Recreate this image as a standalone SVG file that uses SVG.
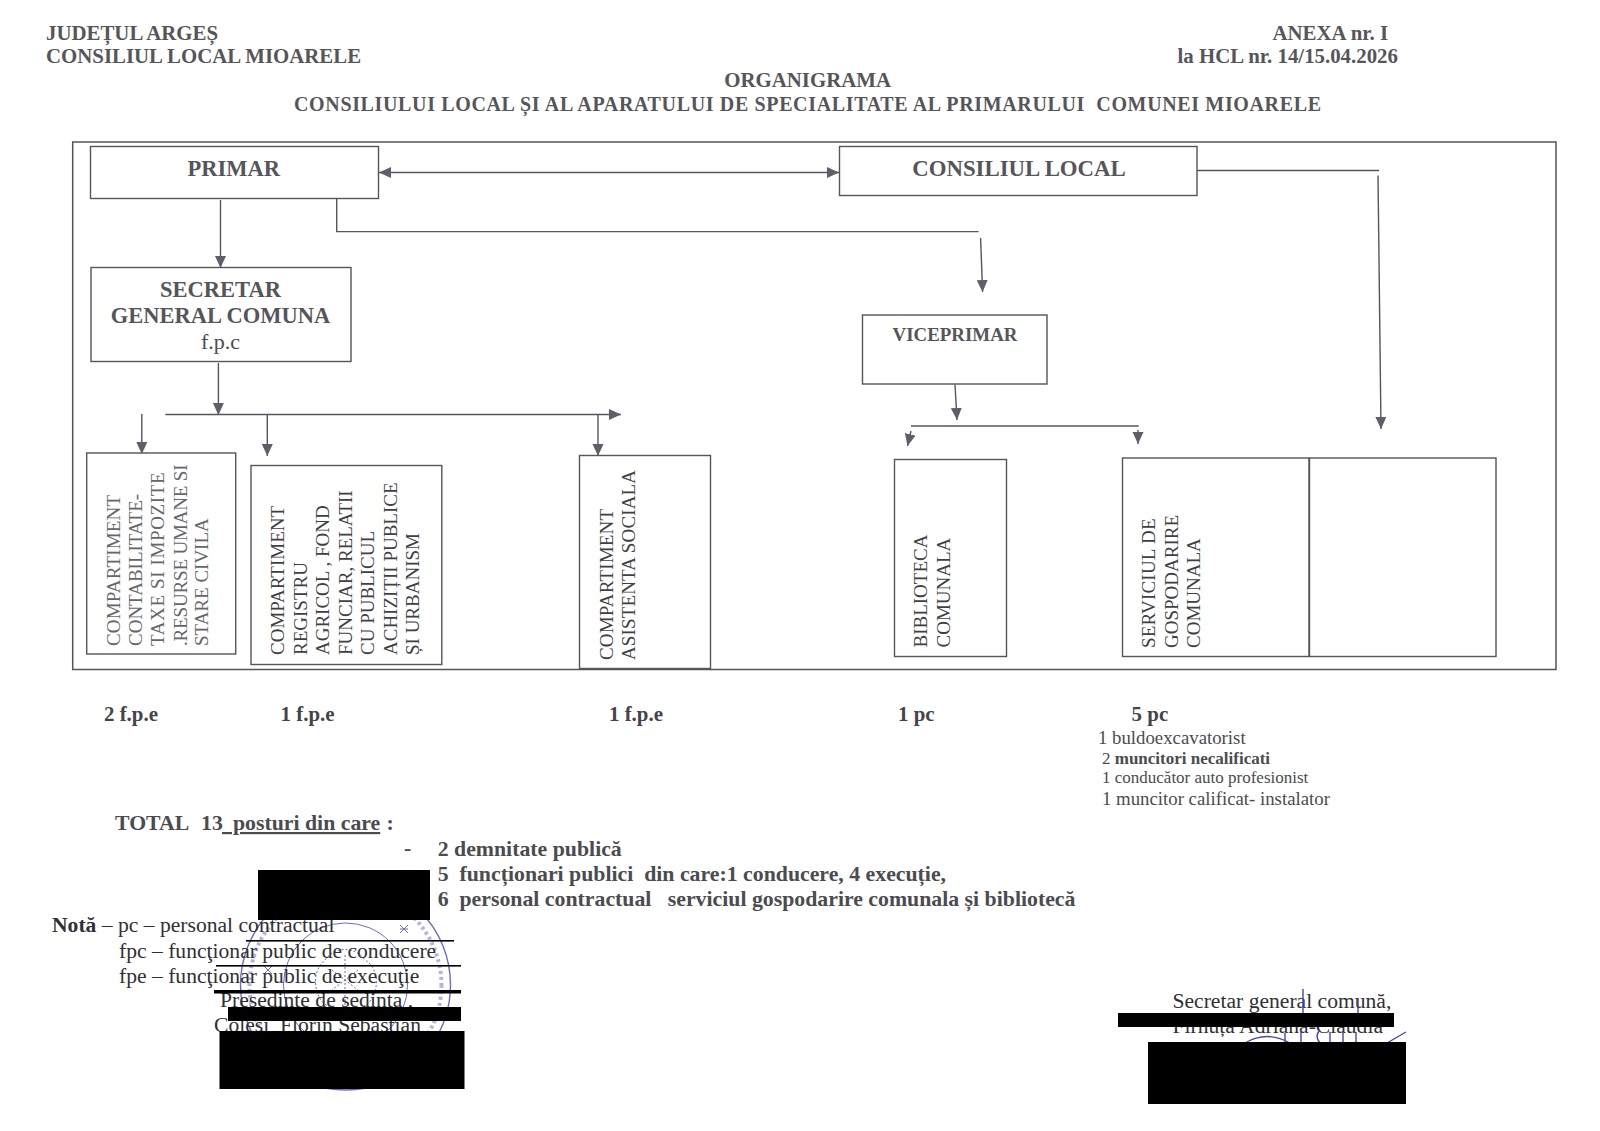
<svg xmlns="http://www.w3.org/2000/svg" width="1600" height="1131" viewBox="0 0 1600 1131">
<style>
text{font-family:"Liberation Serif","Times New Roman",serif;fill:#4b4b50}
.b{font-weight:bold}
.h{font-size:20.85px;font-weight:bold;fill:#55555a}
.t{font-size:22.5px;font-weight:bold;fill:#55555a;text-anchor:middle}
.v{font-size:19px;fill:#3f3f44}
.l{fill:#66666a}
.n{font-size:21.6px;fill:#303034}
.q{font-size:20.9px;font-weight:bold;fill:#44444a}
.r{font-size:21.8px;font-weight:bold;fill:#4b4b50;white-space:pre}
.box{fill:#fff;stroke:#55555a;stroke-width:1.4}
.c{fill:none;stroke:#55555e;stroke-width:1.4}
.a{marker-end:url(#ah)}
.k{fill:#000;stroke:none}
.s{fill:none;stroke:#6a6cc0;stroke-width:1}
.sig{fill:none;stroke:#4a45a8;stroke-width:1.4}
</style>
<defs>
<marker id="ah" markerUnits="userSpaceOnUse" markerWidth="14" markerHeight="12" refX="12" refY="5.5" orient="auto-start-reverse"><path d="M0,0L12,5.5L0,11Z" fill="#5f5f6a"/></marker>
</defs>
<rect width="1600" height="1131" fill="#fff"/>
<g id="header">
<text class="h" x="46" y="40">JUDEȚUL ARGEȘ</text>
<text class="h" x="46" y="63">CONSILIUL LOCAL MIOARELE</text>
<text class="h" x="1272.5" y="40">ANEXA nr. I</text>
<text class="h" x="1177.5" y="63">la HCL nr. 14/15.04.2026</text>
<text class="h" x="807.6" y="87" text-anchor="middle">ORGANIGRAMA</text>
<text class="h" x="294" y="111" textLength="1027" style="font-size:20px;white-space:pre">CONSILIULUI LOCAL ȘI AL APARATULUI DE SPECIALITATE AL PRIMARULUI  COMUNEI MIOARELE</text>
</g>
<rect id="frame" x="72.7" y="142" width="1483.3" height="527.5" fill="none" stroke="#55555a" stroke-width="1.5"/>
<g id="connectors">
<path class="c" d="M379,172.5H839" marker-start="url(#ah)" marker-end="url(#ah)"/>
<path class="c" d="M1197,170.5H1379"/>
<path class="c a" d="M1378,175.5L1381,429"/>
<path class="c a" d="M220.5,200V268"/>
<path class="c" d="M336.7,195V231.6H978.5"/>
<path class="c a" d="M980.6,238L982.6,292"/>
<path class="c a" d="M218.4,363V415"/>
<path class="c a" d="M165.3,414.5H621"/>
<path class="c a" d="M141.8,414V454"/>
<path class="c a" d="M267.3,414.5V456"/>
<path class="c a" d="M598,414.5V456"/>
<path class="c a" d="M955,384.5L957,420"/>
<path class="c" d="M911,426H1138.7"/>
<path class="c a" d="M911,431L907.5,446"/>
<path class="c a" d="M1138,430V444"/>
</g>
<g id="primar"><rect class="box" x="90.5" y="146.5" width="288" height="52"/><text class="t" x="233.7" y="175.5">PRIMAR</text></g>
<g id="consiliul-local"><rect class="box" x="839.5" y="146.5" width="357.5" height="49"/><text class="t" x="1019" y="175.5" style="font-size:22.8px">CONSILIUL LOCAL</text></g>
<g id="secretar"><rect class="box" x="91" y="267.5" width="260" height="94"/><text class="t" x="220.5" y="297">SECRETAR</text><text class="t" x="220.5" y="323">GENERAL COMUNA</text><text x="220.5" y="349" text-anchor="middle" font-size="22">f.p.c</text></g>
<g id="viceprimar"><rect class="box" x="862.5" y="315" width="184.5" height="69"/><text class="t" x="955" y="340.5" style="font-size:18.9px">VICEPRIMAR</text></g>
<g id="comp-contabilitate"><rect class="box" x="86.7" y="453" width="149" height="201"/>
<text class="v l" transform="translate(120,646) rotate(-90)" textLength="151">COMPARTIMENT</text>
<text class="v l" transform="translate(142,646) rotate(-90)">CONTABILITATE-</text>
<text class="v l" transform="translate(164,646) rotate(-90)" textLength="173.5">TAXE SI IMPOZITE</text>
<text class="v l" transform="translate(186.5,646) rotate(-90)" textLength="181.6">.RESURSE UMANE SI</text>
<text class="v l" transform="translate(208,646) rotate(-90)">STARE CIVILA</text>
</g>
<g id="comp-registru"><rect class="box" x="251" y="465.5" width="190.8" height="199"/>
<text class="v" transform="translate(284,655) rotate(-90)">COMPARTIMENT</text>
<text class="v" transform="translate(306.5,655) rotate(-90)">REGISTRU</text>
<text class="v" transform="translate(329,655) rotate(-90)">AGRICOL , FOND</text>
<text class="v" transform="translate(351.5,655) rotate(-90)">FUNCIAR, RELATII</text>
<text class="v" transform="translate(374,655) rotate(-90)">CU PUBLICUL</text>
<text class="v" transform="translate(396.5,655) rotate(-90)">ACHIZIȚII PUBLICE</text>
<text class="v" transform="translate(419,655) rotate(-90)">ȘI URBANISM</text></g>
<g id="comp-asistenta"><rect class="box" x="579.5" y="455.5" width="131" height="213"/>
<text class="v" transform="translate(612.5,660) rotate(-90)" textLength="151">COMPARTIMENT</text>
<text class="v" transform="translate(635,660) rotate(-90)" textLength="190">ASISTENTA SOCIALA</text></g>
<g id="biblioteca"><rect class="box" x="894.5" y="459.5" width="112" height="197"/>
<text class="v" transform="translate(926.5,647.5) rotate(-90)">BIBLIOTECA</text>
<text class="v" transform="translate(949.5,647.5) rotate(-90)">COMUNALA</text></g>
<g id="serviciu"><rect class="box" x="1122.5" y="458" width="186.5" height="198.5"/>
<text class="v" transform="translate(1155,648) rotate(-90)" textLength="129.5">SERVICIUL DE</text>
<text class="v" transform="translate(1177.5,648) rotate(-90)">GOSPODARIRE</text>
<text class="v" transform="translate(1200,648) rotate(-90)">COMUNALA</text></g>
<g id="empty-box"><rect class="box" x="1309.5" y="458" width="186.5" height="198.5"/></g>
<g id="counts">
<text class="q" x="104" y="721">2 f.p.e</text>
<text class="q" x="280.6" y="721">1 f.p.e</text>
<text class="q" x="609" y="721">1 f.p.e</text>
<text class="q" x="898" y="721">1 pc</text>
<text class="q" x="1131.6" y="721">5 pc</text>
<text x="1098" y="744" font-size="18.8">1 buldoexcavatorist</text>
<text x="1102" y="764" font-size="17">2 <tspan class="b">muncitori necalificati</tspan></text>
<text x="1102" y="783" font-size="17">1 conducător auto profesionist</text>
<text x="1102" y="805" font-size="18.8">1 muncitor calificat- instalator</text>
</g>
<g id="total">
<text class="r" x="115" y="830">TOTAL</text>
<text class="r" x="201" y="830">13</text>
<text class="r" x="222" y="830" style="text-decoration:underline">&#160;&#160;posturi din care</text>
<text class="r" x="386.5" y="830">:</text>
<text class="r" x="404" y="855">-</text>
<text class="r" x="437.7" y="855.5">2 demnitate publică</text>
<text class="r" x="437.7" y="881">5  funcționari publici  din care:1 conducere, 4 execuție,</text>
<text class="r" x="437.7" y="906">6  personal contractual   serviciul gospodarire comunala și bibliotecă</text>
</g>
<g id="stamp">
<circle class="s" cx="345.5" cy="985" r="105" style="stroke-width:1.4"/>
<circle class="s" cx="345.5" cy="985" r="96" stroke-dasharray="3 3" style="stroke-width:4" opacity=".5"/>
<circle class="s" cx="345.5" cy="985" r="62"/>
<path class="s" d="M325,960c10,-14 30,-14 40,0c14,8 14,28 6,40c-10,14 -40,14 -50,0c-8,-12 -8,-30 4,-40zM332,970l26,20M358,970l-26,20M345,955v50" stroke-dasharray="2 2"/>
<path class="s" d="M400,925l8,8M408,925l-8,8M400,929h8M264,966l8,8M272,966l-8,8"/>
</g>
<g id="note">
<text class="n" x="52" y="932" style="white-space:pre"><tspan class="b">Notă</tspan> – pc – personal contractual</text>
<text class="n" x="119" y="957.5">fpc – funcţionar public de conducere</text>
<text class="n" x="119" y="982.5">fpe – funcţionar public de execuţie</text>
<text class="n" x="220" y="1007">Presedinte de sedinta ,</text>
<text class="n" x="214" y="1032" style="white-space:pre">Colesi  Florin Sebastian</text>
<text class="n" x="1172.5" y="1008">Secretar general comună,</text>
<text class="n" x="1172.5" y="1033">Firnuța Adriana-Claudia</text>
</g>
<g id="signature">
<path class="sig" d="M1303,989V1014M1358,998V1014M1245,1043Q1267,1030 1290,1043M1285,1033V1043M1301,1030V1043M1320,1030q-6,6 0,13M1330,1032V1043M1343,1032V1043M1356,1032V1043M1387,1043L1406,1032"/>
</g>
<g id="redactions">
<rect class="k" x="258" y="870" width="172" height="50"/>
<rect class="k" x="246" y="940" width="208" height="1.6"/>
<rect class="k" x="216" y="965" width="245" height="1.6"/>
<rect class="k" x="214" y="990" width="247" height="3.5"/>
<rect class="k" x="228" y="1007" width="233" height="14"/>
<rect class="k" x="219.5" y="1031" width="245" height="58"/>
<rect class="k" x="1118" y="1013" width="276" height="14"/>
<rect class="k" x="1148" y="1042" width="258" height="62"/>
</g>
</svg>
